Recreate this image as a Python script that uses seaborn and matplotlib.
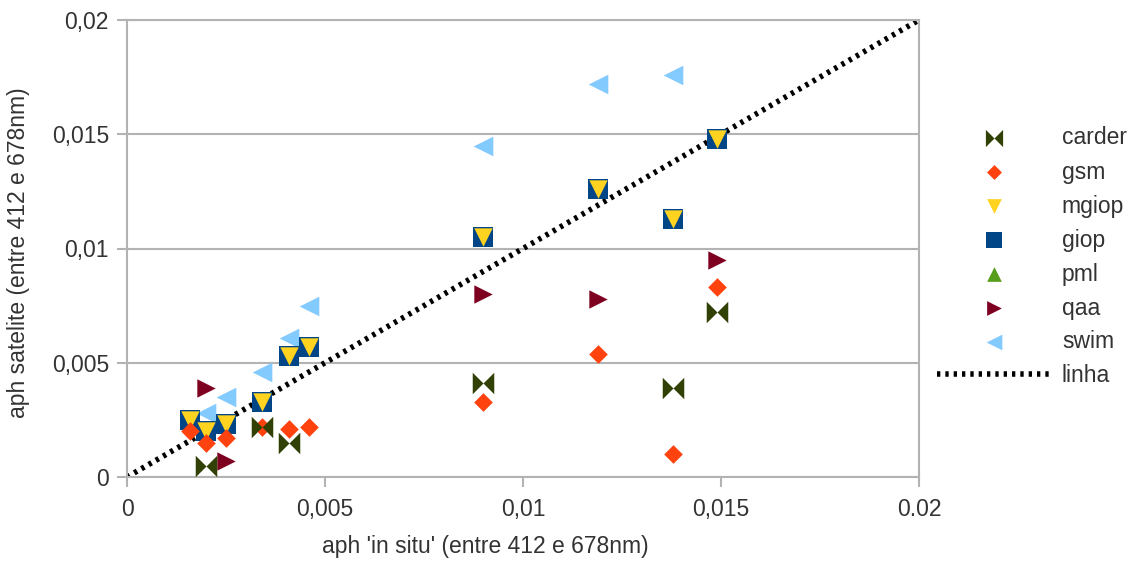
import matplotlib
matplotlib.use("Agg")
import matplotlib.pyplot as plt
import seaborn as sns
import numpy as np

# aph 'in situ' values (x) shared by every model
x_insitu = [0.0016, 0.0020, 0.0025, 0.0034, 0.0041, 0.0046, 0.0090, 0.0119, 0.0138, 0.0149]

nan = np.nan
carder = [nan, 0.0005, nan, 0.0022, 0.0015, nan, 0.0041, nan, 0.0039, 0.0072]
gsm = [0.0020, 0.0015, 0.0017, 0.0022, 0.0021, 0.0022, 0.0033, 0.0054, 0.0010, 0.0083]
mgiop = [0.0025, 0.0020, 0.0023, 0.0033, 0.0053, 0.0057, 0.0105, 0.0126, 0.0113, 0.0148]
giop = [0.0025, 0.0020, 0.0023, 0.0033, 0.0053, 0.0057, 0.0105, 0.0126, 0.0113, 0.0148]
pml = [0.0025, 0.0020, 0.0023, 0.0033, 0.0053, 0.0057, 0.0105, 0.0126, 0.0113, 0.0148]
qaa = [nan, 0.0039, 0.0007, nan, nan, nan, 0.0080, 0.0078, nan, 0.0095]
swim = [nan, 0.0028, 0.0035, 0.0046, 0.0061, 0.0075, 0.0145, 0.0172, 0.0176, nan]

line_x = [0.0, 0.02]
line_y = [0.0, 0.02]

ticks = [0, 0.005, 0.01, 0.015, 0.02]
x_ticklabels = ["0", "0,005", "0,01", "0,015", "0.02"]
y_ticklabels = ["0", "0,005", "0,01", "0,015", "0,02"]

bowtie = [(-1, -1), (-1, 1), (0, 0), (1, 1), (1, -1), (0, 0)]

series = [
    ("carder", carder, "#314004", bowtie, 240),
    ("gsm", gsm, "#ff420e", "D", 90),
    ("mgiop", mgiop, "#ffd320", "v", 175),
    ("giop", giop, "#004586", "s", 200),
    ("pml", pml, "#579d1c", "^", 175),
    ("qaa", qaa, "#7e0021", ">", 175),
    ("swim", swim, "#83caff", "<", 200),
]

sns.set_style("white")
plt.rcParams["font.family"] = ["Liberation Sans", "DejaVu Sans"]

fig = plt.figure(figsize=(11.33, 5.62), dpi=100)
ax = fig.add_axes([127 / 1133, 1 - 477 / 562, (919 - 127) / 1133, (477 - 20) / 562])

grey = "#b3b3b3"
txt = "#333333"
ax.grid(axis="y", color=grey, linewidth=1.5)
ax.set_axisbelow(True)

# series are painted last-to-first, so carder sits on top
n = len(series)
for i, (name, vals, color, marker, size) in enumerate(series):
    sns.scatterplot(x=x_insitu, y=vals, ax=ax, color=color, marker=marker,
                    s=size, linewidth=0, label=name, zorder=3 + n - i)

sns.lineplot(x=line_x, y=line_y, ax=ax, color="black", linestyle=(0, (0.6, 0.9)),
             linewidth=4, label="linha", zorder=2)

ax.set_xlim(0, 0.02)
ax.set_ylim(0, 0.02)
ax.set_xticks(ticks)
ax.set_yticks(ticks)
ax.set_xticklabels(x_ticklabels)
ax.set_yticklabels(y_ticklabels)
ax.tick_params(axis="both", length=7, width=1.5, color=grey, labelsize=16.5,
               labelcolor=txt, direction="out", bottom=True, left=True)
ax.tick_params(axis="x", pad=8)
ax.tick_params(axis="y", pad=6)
for sp in ax.spines.values():
    sp.set_color(grey)
    sp.set_linewidth(1.5)

ax.set_xlabel("aph 'in situ' (entre 412 e 678nm)", fontsize=16.5, color=txt)
ax.set_ylabel("aph satelite (entre 412 e 678nm)", fontsize=16.5, color=txt)
ax.xaxis.set_label_coords(0.452, -0.128)
ax.yaxis.set_label_coords(-0.122, 0.49)

leg = ax.legend(loc="center left", bbox_to_anchor=(937 / 1133, 1 - 257 / 562),
                bbox_transform=fig.transFigure, frameon=False, fontsize=16.5,
                borderpad=0, borderaxespad=0, handlelength=5.0, handletextpad=0.45,
                labelspacing=0.48, markerscale=0.8)
for t in leg.get_texts():
    t.set_color(txt)

fig.savefig("out.png", dpi=100)
